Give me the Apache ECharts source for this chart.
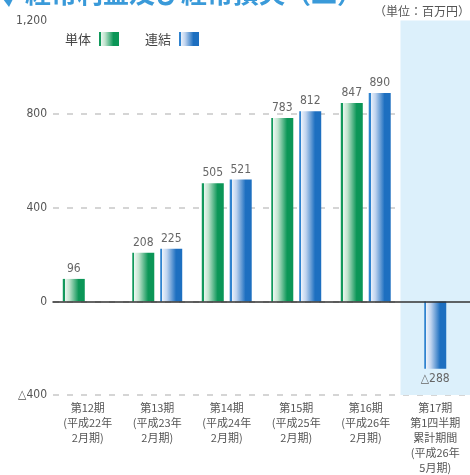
<!DOCTYPE html>
<html>
<head>
<meta charset="utf-8">
<script src="https://cdn.jsdelivr.net/npm/echarts@6/dist/echarts.min.js"></script>
<style>
  html, body { margin: 0; padding: 0; background: #ffffff; }
  #chart { width: 470px; height: 475px; }
</style>
</head>
<body>
<div id="chart"></div>
<script>
// Fiscal periods (last one is a first-quarter cumulative period)
const periods = [
  '第12期\n(平成22年\n2月期)',
  '第13期\n(平成23年\n2月期)',
  '第14期\n(平成24年\n2月期)',
  '第15期\n(平成25年\n2月期)',
  '第16期\n(平成26年\n2月期)',
  '第17期\n第1四半期\n累計期間\n(平成26年\n5月期)'
];
// Ordinary income / loss, millions of yen
const nonConsolidated = [96, 208, 505, 783, 847, null];
const consolidated = [null, 225, 521, 812, 890, -288];
const quarterIndex = 5;

const yMin = -400, yMax = 1200, yStep = 400;

const NARROW = "'Liberation Sans Narrow', 'DejaVu Sans Condensed', 'Noto Sans CJK JP', sans-serif";
const CJK = "'Noto Sans CJK JP', sans-serif";

function stripeGradient(edge, pale, mid, solid) {
  return new echarts.graphic.LinearGradient(0, 0, 1, 0, [
    { offset: 0, color: edge },
    { offset: 0.09, color: edge },
    { offset: 0.1, color: pale },
    { offset: 0.3, color: mid },
    { offset: 0.72, color: solid },
    { offset: 1, color: solid }
  ]);
}
const greenFill = stripeGradient('#12995c', '#eaf6ef', '#bfe3cd', '#0b9657');
const blueFill = stripeGradient('#3083cf', '#ebf1fa', '#c0d4ef', '#1d6fc0');

function fmt(v) {
  return v < 0 ? '△' + Math.abs(v) : String(v);
}
function toItems(arr) {
  return arr.map(v => v == null ? null : ({
    value: v,
    label: { position: v < 0 ? 'bottom' : 'top' }
  }));
}

const groupedConsolidated = consolidated.map((v, i) => i === quarterIndex ? null : v);
const quarterConsolidated = consolidated.map((v, i) => i === quarterIndex ? v : null);

const valueLabel = {
  show: true,
  formatter: p => fmt(p.value),
  color: '#666',
  fontSize: 12,
  fontFamily: NARROW,
  distance: 4
};

const chart = echarts.init(document.getElementById('chart'), null, { renderer: 'canvas' });

chart.setOption({
  animation: false,
  grid: { left: 53, right: -3, top: 20.5, bottom: 78 },
  legend: {
    left: 60,
    top: 27,
    align: 'right',
    icon: 'rect',
    itemWidth: 20,
    itemHeight: 14,
    itemGap: 26,
    textStyle: { color: '#444', fontSize: 13, fontFamily: CJK, padding: [0, 3, 0, 0] },
    data: ['単体', '連結']
  },
  xAxis: [
    {
      type: 'category',
      data: periods,
      position: 'bottom',
      axisLine: { show: false, onZero: false },
      axisTick: { show: false },
      axisLabel: {
        color: '#555',
        fontSize: 11,
        lineHeight: 15,
        fontFamily: CJK,
        margin: 5,
        interval: 0,
        verticalAlign: 'top'
      }
    },
    {
      type: 'category',
      data: periods,
      position: 'bottom',
      z: 5,
      axisLine: { show: true, onZero: true, lineStyle: { color: '#333', width: 1.5 } },
      axisTick: { show: false },
      axisLabel: { show: false }
    },
    {
      type: 'value',
      min: 0,
      max: periods.length,
      show: false
    }
  ],
  yAxis: {
    type: 'value',
    min: yMin,
    max: yMax,
    interval: yStep,
    axisLine: { show: false },
    axisTick: { show: false },
    axisLabel: {
      color: '#555',
      fontSize: 12,
      fontFamily: NARROW,
      margin: 6,
      formatter: v => v < 0 ? '△' + Math.abs(v) : v.toLocaleString('en-US')
    },
    splitLine: {
      show: true,
      lineStyle: {
        color: ['#c8c8c8', '#c8c8c8', '#c8c8c8', '#c8c8c8', 'rgba(0,0,0,0)'],
        type: [6, 8],
        width: 1.5
      }
    }
  },
  series: [
    {
      // shaded band behind the quarterly period
      type: 'line',
      xAxisIndex: 2,
      z: -1,
      data: [],
      silent: true,
      markArea: {
        silent: true,
        itemStyle: { color: '#dcf0fb' },
        data: [[{ xAxis: quarterIndex }, { xAxis: quarterIndex + 1 }]]
      }
    },
    {
      name: '単体',
      type: 'bar',
      xAxisIndex: 0,
      barWidth: 22,
      barGap: '27%',
      itemStyle: { color: greenFill },
      label: valueLabel,
      data: toItems(nonConsolidated)
    },
    {
      name: '連結',
      type: 'bar',
      xAxisIndex: 0,
      barWidth: 22,
      barGap: '27%',
      itemStyle: { color: blueFill },
      label: valueLabel,
      data: toItems(groupedConsolidated)
    },
    {
      name: '連結',
      type: 'bar',
      xAxisIndex: 1,
      barWidth: 22,
      itemStyle: { color: blueFill },
      label: valueLabel,
      data: toItems(quarterConsolidated)
    }
  ],
  graphic: [
    {
      type: 'polygon',
      left: 0, top: -5,
      shape: { points: [[0, 0], [13, 0], [13, 4], [9, 12]] },
      style: { fill: '#3a9ad9' }
    },
    {
      type: 'text',
      x: 25, y: 6,
      style: {
        text: '経常利益及び経常損失（二）',
        font: 'bold 26px ' + CJK,
        fill: '#3a9ad9',
        textVerticalAlign: 'bottom'
      }
    },
    {
      type: 'text',
      x: 470, y: 5,
      style: {
        text: '（単位：百万円）',
        font: '12px ' + CJK,
        fill: '#555',
        textAlign: 'right'
      }
    }
  ]
});
</script>
</body>
</html>
